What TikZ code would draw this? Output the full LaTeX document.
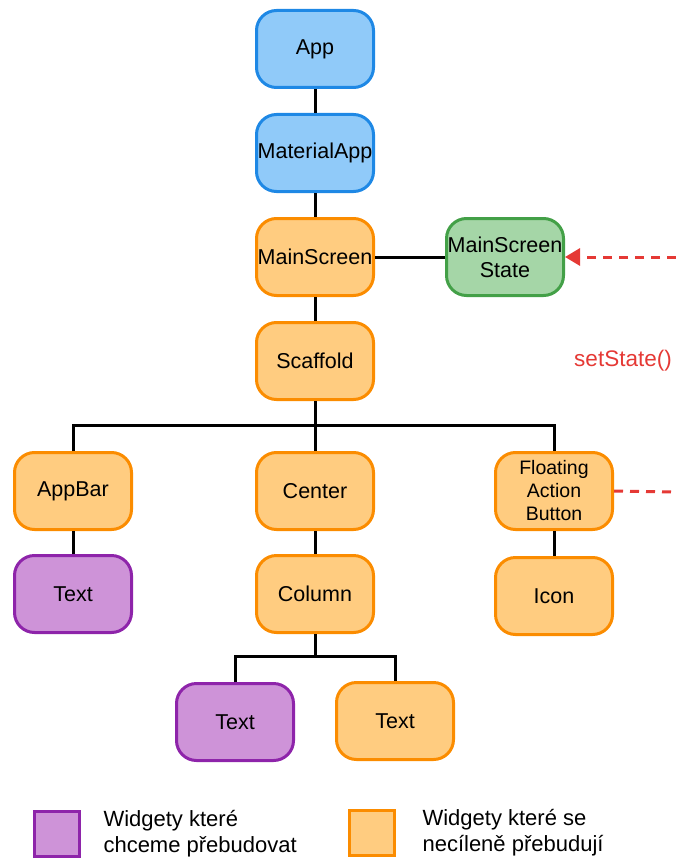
\documentclass[tikz,border=0pt]{standalone}
\usepackage{fontspec}
\setmainfont{Liberation Sans}
\usetikzlibrary{arrows.meta}
\definecolor{bluefill}{HTML}{90CAF9}
\definecolor{blueline}{HTML}{1E88E5}
\definecolor{orfill}{HTML}{FFCC80}
\definecolor{orline}{HTML}{FB8C00}
\definecolor{grfill}{HTML}{A5D6A7}
\definecolor{grline}{HTML}{43A047}
\definecolor{pufill}{HTML}{CE93D8}
\definecolor{puline}{HTML}{8E24AA}
\definecolor{redc}{HTML}{E53935}
\begin{document}
\begin{tikzpicture}[x=1pt,y=-1pt,
  box/.style={draw,line width=3pt,rounded corners=20pt,minimum width=117pt,minimum height=77pt,inner sep=0pt,align=center,font=\fontsize{21.5}{25}\selectfont},
  bluebox/.style={box,fill=bluefill,draw=blueline},
  orbox/.style={box,fill=orfill,draw=orline},
  grbox/.style={box,fill=grfill,draw=grline},
  pubox/.style={box,fill=pufill,draw=puline},
  conn/.style={line width=3pt},
  reddash/.style={draw=redc,line width=3pt,dash pattern=on 9pt off 7pt},
  legsq/.style={draw,line width=3pt,minimum size=45pt,inner sep=0pt},
  legtext/.style={anchor=west,align=left,font=\fontsize{22}{26}\selectfont}]
\useasboundingbox (0,0) rectangle (676,861);
% nodes
\node[bluebox] (app) at (315,49) {App};
\node[bluebox] (mat) at (315,153) {MaterialApp};
\node[orbox] (main) at (315,257) {MainScreen};
\node[grbox] (state) at (505,257) {MainScreen\\[0pt]State};
\node[orbox] (scaf) at (315,361) {Scaffold};
\node[orbox] (appbar) at (73,491) {AppBar};
\node[orbox] (center) at (315,491) {Center};
\node[orbox,font=\fontsize{19.5}{23}\selectfont] (fab) at (554,491) {Floating\\Action\\Button};
\node[pubox] (text1) at (73,594) {Text};
\node[orbox] (column) at (315,594) {Column};
\node[orbox] (icon) at (554,596) {Icon};
\node[pubox] (text2) at (235,722) {Text};
\node[orbox] (text3) at (395,721) {Text};
\node[text=redc,font=\fontsize{22.5}{26}\selectfont] (setstate) at (623,361) {setState()};
% connectors
\draw[conn] (app) -- (mat);
\draw[conn] (mat) -- (main);
\draw[conn] (main) -- (scaf);
\draw[conn] (main) -- (state);
\coordinate (bus1) at (315,425);
\draw[conn] (scaf) -- (center);
\draw[conn] (appbar.north) |- (bus1) -| (fab.north);
\draw[conn] (appbar) -- (text1);
\draw[conn] (center) -- (column);
\draw[conn] (fab) -- (icon);
\coordinate (bus2) at (315,656);
\draw[conn] (column) -- (bus2);
\draw[conn] (text2.north) |- (bus2) -| (text3.north);
% red dashed
\coordinate (rin) at (676,257);
\coordinate (rfab) at (676,492);
\draw[reddash,-{Triangle[length=15pt,width=17pt]}] (rin) -- (state.east);
\draw[reddash] (fab.east) -- (rfab);
% legend
\node[legsq,fill=pufill,draw=puline] (leg1) at (57,834) {};
\node[legtext] (leg1t) at (100,834) {Widgety které\\chceme přebudovat};
\node[legsq,fill=orfill,draw=orline] (leg2) at (372,833) {};
\node[legtext] (leg2t) at (419,833) {Widgety které se\\necíleně přebudují};
\end{tikzpicture}
\end{document}
